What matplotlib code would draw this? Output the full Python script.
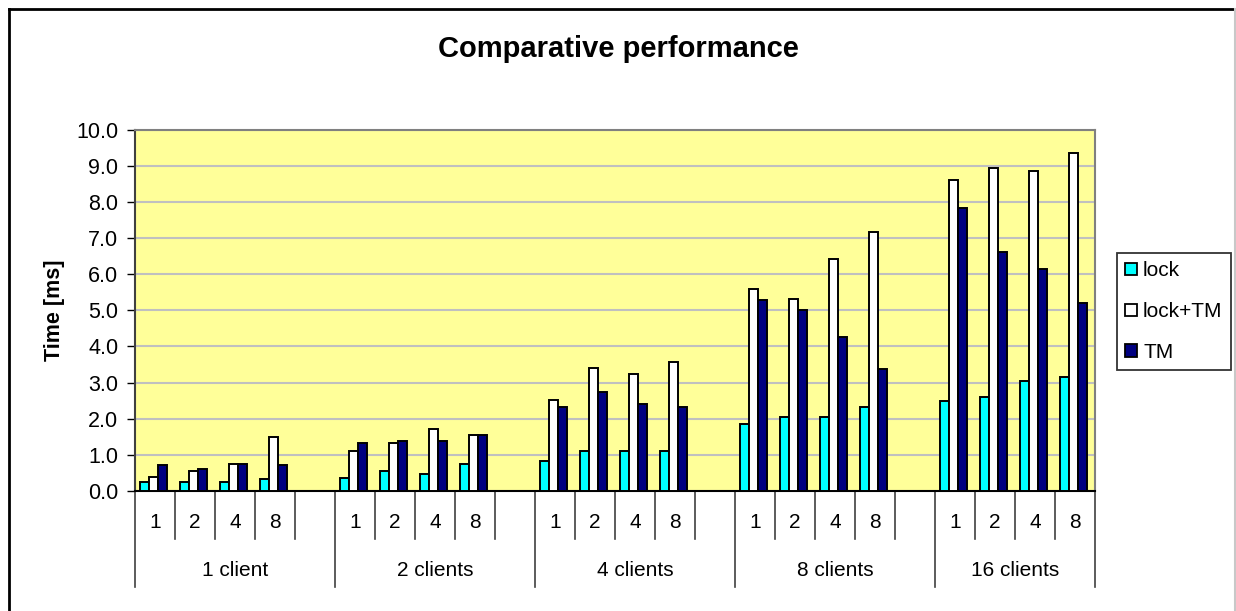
import matplotlib.pyplot as plt
from matplotlib.lines import Line2D
from matplotlib.patches import Patch
from matplotlib.ticker import FormatStrFormatter
import matplotlib.transforms as mtransforms

plt.rcParams['font.family'] = ['Liberation Sans', 'DejaVu Sans']

# данные
groups = ['1 client', '2 clients', '4 clients', '8 clients', '16 clients']
sub_labels = ['1', '2', '4', '8']
series_names = ['lock', 'lock+TM', 'TM']

lock = [0.26, 0.26, 0.26, 0.33,
        0.37, 0.54, 0.48, 0.76,
        0.83, 1.11, 1.11, 1.11,
        1.84, 2.06, 2.05, 2.32,
        2.48, 2.59, 3.03, 3.14]
lock_tm = [0.38, 0.54, 0.76, 1.50,
           1.10, 1.33, 1.72, 1.54,
           2.51, 3.39, 3.23, 3.56,
           5.60, 5.32, 6.43, 7.17,
           8.61, 8.94, 8.84, 9.34]
tm = [0.72, 0.61, 0.76, 0.72,
      1.33, 1.39, 1.39, 1.54,
      2.33, 2.74, 2.40, 2.33,
      5.27, 5.00, 4.26, 3.37,
      7.84, 6.62, 6.13, 5.19]

colors = ['#00FFFF', '#FFFFFF', '#000080']

# позиции: 4 столбца на группу + пустой слот между группами
per_group = len(sub_labels)
slot = per_group + 1
xs = [g * slot + k for g in range(len(groups)) for k in range(per_group)]
n_slots = len(groups) * slot - 1

fig = plt.figure(figsize=(12.36, 6.11), dpi=100)
W, H = 1236, 611
ax = fig.add_axes([135 / W, 1 - 491 / H, 960 / W, 361.5 / H])
ax.set_facecolor('#FFFF99')

bw = 0.225
for i, (vals, c) in enumerate(zip([lock, lock_tm, tm], colors)):
    ax.bar([x + (i - 1) * bw - 0.03 for x in xs], vals, width=bw, color=c,
           edgecolor='black', linewidth=1.4, zorder=3)

ax.set_xlim(-0.5, n_slots - 0.5)
ax.set_ylim(0, 10)
ax.set_yticks([i * 1.0 for i in range(11)])
ax.yaxis.set_major_formatter(FormatStrFormatter('%.1f'))
ax.tick_params(axis='y', labelsize=15.5, length=6, width=1, direction='out', pad=6)
ax.set_xticks([])
ax.grid(axis='y', color='#C0C0C0', linewidth=1.5, zorder=0)
for s in ['top', 'right']:
    ax.spines[s].set_color('#808080')
    ax.spines[s].set_linewidth(1.5)
ax.spines['left'].set_color('#404040')
ax.spines['bottom'].set_color('black')
ax.spines['left'].set_linewidth(1.5)
ax.spines['bottom'].set_linewidth(1.5)

ax.set_ylabel('Time [ms]', fontsize=15.5, fontweight='bold', labelpad=8)
fig.text(0.5, 1 - 49 / H, 'Comparative performance', ha='center', va='center',
         fontsize=21, fontweight='bold')

# таблица категорий под осью
tr = mtransforms.blended_transform_factory(ax.transData, ax.transAxes)
short_y = -48 / 361.5
long_y = -96 / 361.5
for b in range(n_slots + 1):
    xb = b - 0.5
    y_end = long_y if (b % slot == 0 or b == n_slots) else short_y
    ax.plot([xb, xb], [0, y_end], color='#404040', linewidth=1.2,
            transform=tr, clip_on=False)
for x, lab in zip(xs, sub_labels * len(groups)):
    ax.text(x, -32 / 361.5, lab, transform=tr, ha='center', va='center', fontsize=15)
for g, name in enumerate(groups):
    left = g * slot - 0.5
    right = min(left + slot, n_slots - 0.5)
    ax.text((left + right) / 2, -79 / 361.5, name, transform=tr,
            ha='center', va='center', fontsize=15)

handles = [Patch(facecolor=c, edgecolor='black', linewidth=1.3) for c in colors]
leg = fig.legend(handles, series_names, loc='upper left',
                 bbox_to_anchor=(1117 / W, 1 - 253 / H), fontsize=15,
                 frameon=True, fancybox=False, edgecolor='black',
                 handlelength=0.55, handleheight=0.55, handletextpad=0.3,
                 labelspacing=1.05, borderpad=0.4, borderaxespad=0)
leg.get_frame().set_linewidth(1.3)

# рамка вокруг всей диаграммы
fig.add_artist(Line2D([9 / W, 9 / W], [0, 1 - 9 / H], color='black', linewidth=2))
fig.add_artist(Line2D([9 / W, 1235 / W], [1 - 9 / H, 1 - 9 / H], color='black', linewidth=2))
fig.add_artist(Line2D([1235 / W, 1235 / W], [0, 1 - 9 / H], color='#C8C8C8', linewidth=1.5))

fig.savefig('out.png', dpi=100)
